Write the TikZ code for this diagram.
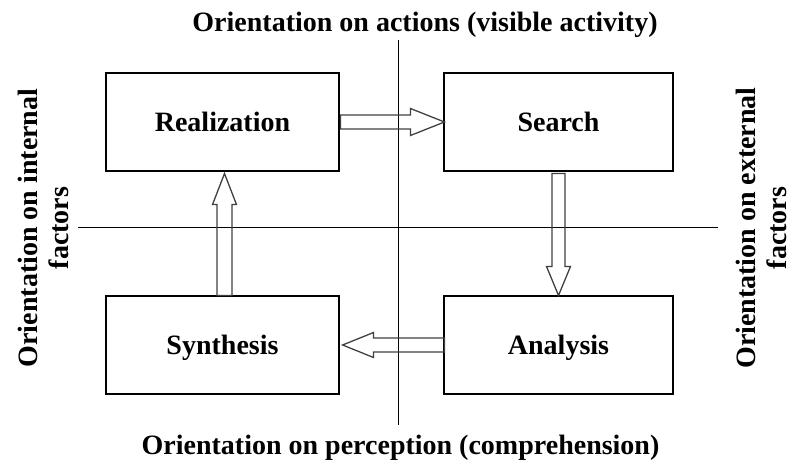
\documentclass[tikz,border=0pt]{standalone}
\usepackage{fontspec}
\setmainfont{Liberation Serif}
\usetikzlibrary{calc}
\begin{document}
\begin{tikzpicture}[x=1pt,y=-1pt,
  box/.style={draw, line width=1.1pt, minimum width=233pt, minimum height=98pt,
    inner sep=0pt, text height=19pt, text depth=0pt,
    font=\bfseries\fontsize{28}{30}\selectfont},
  axis/.style={line width=1pt},
  caption/.style={font=\bfseries\fontsize{28}{31}\selectfont, inner sep=0pt},
  hollow/.style={draw=black!75, line width=1.3pt, line join=miter}]
\useasboundingbox (0,0) rectangle (791,460);

% quadrant axes
\coordinate (vtop) at (398,40);
\coordinate (vbot) at (398,425);
\coordinate (hl) at (78,227);
\coordinate (hr) at (718,227);
\draw[axis] (vtop) -- (vbot);
\draw[axis] (hl) -- (hr);

% the four stages
\node[box] (real) at (222.5,122) {Realization};
\node[box, minimum width=229pt] (search) at (558.5,122) {Search};
\node[box] (synth) at (222.5,345) {Synthesis};
\node[box, minimum width=229pt] (anal) at (558.5,345) {Analysis};

% axis captions
\node[caption, anchor=base] (act) at (425,31.5) {Orientation on actions (visible activity)};
\node[caption, anchor=base] (perc) at (400.5,454) {Orientation on perception (comprehension)};
\node[caption, rotate=90, align=center] (int) at (43,228) {Orientation on internal\\factors};
\node[caption, rotate=90, align=center] (ext) at (761,228) {Orientation on external\\factors};

% hollow block arrows between the stages
% Realization -> Search
\coordinate (rb) at ($(real.east)+(1,0)$);
\coordinate (rt) at ($(search.west)+(1,0)$);
\draw[hollow] ($(rb)+(0,-7)$) -- ($(rt)+(-34,-7)$) -- ($(rt)+(-34,-13.5)$) -- (rt)
  -- ($(rt)+(-34,13.5)$) -- ($(rt)+(-34,7)$) -- ($(rb)+(0,7)$) -- cycle;
% Search -> Analysis
\coordinate (db) at ($(search.south)+(0,2)$);
\coordinate (dt) at (anal.north);
\draw[hollow] ($(db)+(-6.5,0)$) -- ($(dt)+(-6.5,-29)$) -- ($(dt)+(-12,-29)$) -- (dt)
  -- ($(dt)+(12,-29)$) -- ($(dt)+(6.5,-29)$) -- ($(db)+(6.5,0)$) -- cycle;
% Analysis -> Synthesis
\coordinate (lb) at ($(anal.west)+(1,0)$);
\coordinate (lt) at ($(synth.east)+(3,0)$);
\draw[hollow] ($(lb)+(0,-7)$) -- ($(lt)+(31,-7)$) -- ($(lt)+(31,-12.5)$) -- (lt)
  -- ($(lt)+(31,12.5)$) -- ($(lt)+(31,7)$) -- ($(lb)+(0,7)$) -- cycle;
% Synthesis -> Realization
\coordinate (ub) at ($(synth.north)+(2,0)$);
\coordinate (ut) at ($(real.south)+(2,2)$);
\draw[hollow] ($(ub)+(-7.5,0)$) -- ($(ut)+(-7.5,31)$) -- ($(ut)+(-12,31)$) -- (ut)
  -- ($(ut)+(12,31)$) -- ($(ut)+(7.5,31)$) -- ($(ub)+(7.5,0)$) -- cycle;
\end{tikzpicture}
\end{document}
